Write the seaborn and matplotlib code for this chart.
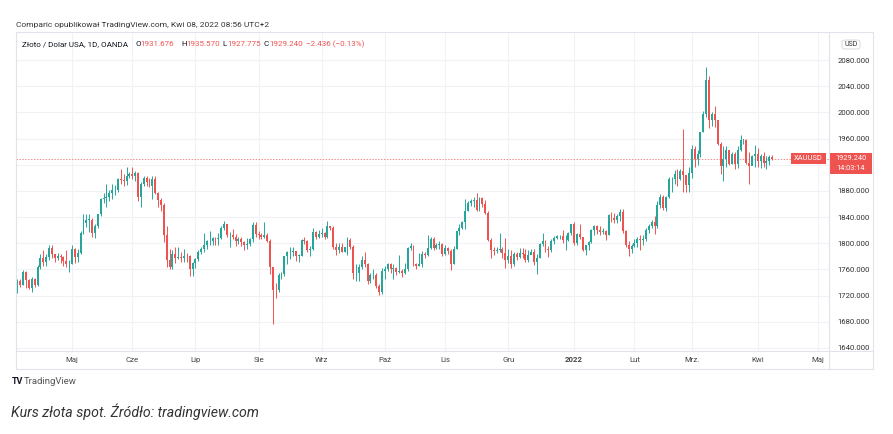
import numpy as np
import pandas as pd
import matplotlib
import matplotlib.pyplot as plt
from matplotlib.patches import Rectangle, FancyBboxPatch
from matplotlib.lines import Line2D
import seaborn as sns

matplotlib.use('Agg')
sns.set_theme(style='white')
plt.rcParams['font.family'] = ['Roboto', 'DejaVu Sans']

# ---------------------------------------------------------------------------
# XAU/USD daily candles, 2021-04-06 .. 2022-04-08
# ---------------------------------------------------------------------------
first_open = 1728.0

closes = [
    # Apr 2021
    1743, 1737, 1756, 1744, 1732, 1746, 1736, 1764, 1777, 1771, 1779, 1793, 1783, 1777, 1780, 1779, 1773, 1768, 1769,
    # May
    1792, 1779, 1785, 1815, 1831, 1836, 1836, 1815, 1826, 1844, 1867, 1869, 1870, 1877, 1881, 1881, 1898, 1897, 1895, 1903, 1906,
    # Jun
    1903, 1908, 1871, 1891, 1899, 1893, 1888, 1898, 1877, 1866, 1859, 1812, 1774, 1764, 1783, 1778, 1779, 1777, 1781, 1780, 1761, 1770,
    # Jul
    1776, 1787, 1791, 1797, 1803, 1803, 1808, 1806, 1808, 1824, 1829, 1812, 1812, 1810, 1804, 1806, 1802, 1797, 1799, 1806, 1828, 1814,
    # Aug
    1813, 1810, 1812, 1804, 1763, 1729, 1728, 1752, 1753, 1780, 1786, 1786, 1788, 1781, 1781, 1805, 1803, 1790, 1792, 1817, 1810, 1814,
    # Sep
    1815, 1809, 1827, 1823, 1794, 1789, 1795, 1787, 1794, 1805, 1794, 1754, 1754, 1764, 1775, 1768, 1743, 1751, 1751, 1734, 1726, 1757,
    # Oct
    1761, 1769, 1760, 1762, 1756, 1757, 1754, 1760, 1793, 1796, 1768, 1765, 1769, 1783, 1782, 1793, 1807, 1793, 1798, 1799, 1783,
    # Nov
    1793, 1788, 1769, 1792, 1818, 1823, 1832, 1849, 1862, 1865, 1866, 1851, 1869, 1860, 1846, 1805, 1790, 1788, 1790, 1792, 1785, 1774,
    # Dec
    1781, 1768, 1784, 1779, 1785, 1783, 1775, 1782, 1787, 1771, 1777, 1799, 1804, 1791, 1789, 1803, 1808, 1811, 1811, 1805, 1805, 1815, 1829,
    # Jan 2022
    1801, 1814, 1810, 1789, 1797, 1802, 1821, 1826, 1821, 1817, 1819, 1813, 1843, 1839, 1835, 1842, 1848, 1819, 1797, 1791, 1796,
    # Feb
    1801, 1807, 1805, 1807, 1820, 1826, 1833, 1827, 1859, 1870, 1854, 1870, 1898, 1898, 1906, 1898, 1910, 1904, 1889, 1908,
    # Mar
    1944, 1928, 1936, 1970, 1998, 2050, 1989, 1997, 1988, 1952, 1918, 1928, 1943, 1921, 1936, 1921, 1943, 1958, 1958, 1923, 1918, 1933, 1937,
    # Apr
    1925, 1933, 1922, 1925, 1931.676, 1929.24,
]

highs = [
    1745, 1745, 1759, 1758, 1746, 1748, 1747, 1767, 1784, 1790, 1784, 1797, 1798, 1783, 1785, 1783, 1780, 1790, 1775,
    1798, 1793, 1792, 1818, 1845, 1844, 1844, 1838, 1829, 1845, 1869, 1877, 1891, 1882, 1890, 1889, 1900, 1913, 1906, 1916, 1909,
    1916, 1910, 1909, 1894, 1903, 1903, 1900, 1903, 1903, 1878, 1869, 1862, 1826, 1791, 1789, 1794, 1795, 1786, 1792, 1785, 1782, 1771,
    1778, 1790, 1795, 1815, 1805, 1818, 1810, 1809, 1815, 1827, 1834, 1830, 1817, 1822, 1814, 1809, 1809, 1804, 1808, 1808, 1832, 1832,
    1818, 1816, 1832, 1816, 1807, 1745, 1739, 1754, 1756, 1781, 1788, 1794, 1795, 1788, 1784, 1806, 1809, 1805, 1796, 1823, 1818, 1821,
    1823, 1817, 1834, 1827, 1827, 1801, 1800, 1801, 1795, 1809, 1808, 1797, 1769, 1768, 1780, 1787, 1770, 1754, 1760, 1754, 1738, 1762,
    1765, 1770, 1770, 1768, 1764, 1782, 1761, 1770, 1795, 1800, 1797, 1770, 1785, 1788, 1787, 1813, 1809, 1810, 1801, 1803, 1801,
    1797, 1795, 1792, 1796, 1818, 1829, 1834, 1868, 1865, 1868, 1870, 1877, 1870, 1870, 1866, 1849, 1808, 1794, 1795, 1815, 1794, 1808,
    1792, 1790, 1786, 1787, 1793, 1793, 1791, 1789, 1791, 1792, 1784, 1800, 1815, 1805, 1796, 1807, 1811, 1812, 1813, 1820, 1812, 1817, 1830,
    1832, 1815, 1829, 1810, 1798, 1804, 1822, 1828, 1828, 1827, 1823, 1820, 1844, 1848, 1847, 1845, 1853, 1852, 1821, 1803, 1799,
    1807, 1810, 1812, 1813, 1823, 1829, 1836, 1842, 1865, 1875, 1873, 1872, 1902, 1902, 1912, 1914, 1914, 1974, 1904, 1916,
    1950, 1948, 1943, 1970, 2002, 2070, 2056, 2001, 2009, 1989, 1955, 1948, 1949, 1943, 1940, 1939, 1948, 1966, 1959, 1960, 1940, 1935, 1950,
    1945, 1937, 1940, 1933, 1935, 1935.57,
]

lows = [
    1724, 1733, 1736, 1731, 1730, 1725, 1733, 1734, 1760, 1765, 1765, 1775, 1777, 1772, 1775, 1770, 1766, 1763, 1756,
    1769, 1770, 1771, 1784, 1814, 1825, 1817, 1809, 1808, 1824, 1841, 1862, 1855, 1864, 1868, 1873, 1879, 1891, 1888, 1889, 1899,
    1898, 1895, 1864, 1855, 1887, 1887, 1886, 1867, 1876, 1855, 1849, 1802, 1763, 1761, 1761, 1770, 1776, 1771, 1772, 1772, 1750, 1750,
    1762, 1773, 1783, 1786, 1792, 1797, 1797, 1797, 1797, 1807, 1821, 1810, 1795, 1806, 1796, 1799, 1796, 1789, 1792, 1796, 1802, 1809,
    1806, 1806, 1808, 1802, 1753, 1677, 1717, 1726, 1745, 1750, 1768, 1776, 1780, 1773, 1771, 1780, 1799, 1787, 1780, 1790, 1807, 1808,
    1809, 1807, 1808, 1820, 1791, 1782, 1785, 1786, 1787, 1782, 1791, 1745, 1742, 1742, 1760, 1763, 1738, 1740, 1745, 1731, 1721, 1722,
    1746, 1757, 1755, 1746, 1751, 1754, 1749, 1753, 1758, 1790, 1765, 1760, 1765, 1764, 1778, 1780, 1791, 1790, 1791, 1791, 1780,
    1782, 1784, 1759, 1768, 1791, 1813, 1822, 1822, 1849, 1857, 1856, 1850, 1850, 1856, 1844, 1803, 1778, 1782, 1785, 1786, 1778, 1762,
    1770, 1762, 1765, 1775, 1778, 1778, 1771, 1771, 1783, 1767, 1753, 1777, 1796, 1786, 1779, 1786, 1799, 1806, 1806, 1800, 1790, 1804, 1813,
    1798, 1798, 1806, 1788, 1782, 1789, 1800, 1813, 1814, 1812, 1814, 1805, 1812, 1832, 1831, 1831, 1834, 1816, 1795, 1780, 1785,
    1794, 1795, 1789, 1797, 1803, 1816, 1823, 1814, 1823, 1854, 1851, 1850, 1869, 1878, 1890, 1887, 1897, 1878, 1878, 1879,
    1900, 1916, 1920, 1932, 1970, 1993, 1976, 1979, 1978, 1950, 1906, 1895, 1916, 1920, 1921, 1914, 1915, 1941, 1952, 1921, 1890, 1919, 1916,
    1917, 1915, 1916, 1914, 1919, 1927.775,
]

month_labels = ['Maj', 'Cze', 'Lip', 'Sie', 'Wrz', 'Paź', 'Lis', 'Gru', '2022', 'Lut', 'Mrz.', 'Kwi', 'Maj']
price_ticks = [1640, 1680, 1720, 1760, 1800, 1840, 1880, 1920, 1960, 2000, 2040, 2080]
last_price = 1929.24

UP, DOWN = '#26a69a', '#ef5350'
GRID = '#f0f2f6'
BORDER = '#e0e3eb'
W, H = 893, 434

df = pd.DataFrame({'close': closes, 'high': highs, 'low': lows})
df['open'] = [first_open] + closes[:-1]
df['date'] = pd.bdate_range('2021-04-06', periods=len(df))
df['i'] = np.arange(len(df))
df['up'] = df['close'] >= df['open']

# trading-day calendar extended into the future for the time axis
cal = pd.bdate_range('2021-04-06', '2022-05-31')
month_idx = [i for i in range(1, len(cal)) if cal[i].month != cal[i - 1].month][:len(month_labels)]


def fx(x):
    return x / W


def fy(y):
    return 1 - y / H


fig = plt.figure(figsize=(W / 100, H / 100), dpi=100)
ax = fig.add_axes([fx(16), fy(351), fx(829) - fx(16), fy(32) - fy(351)])

# grid
for v in price_ticks:
    ax.axhline(v, color=GRID, lw=0.8, zorder=0)
for m in month_idx:
    ax.axvline(m, color=GRID, lw=0.8, zorder=0)

# candles
colors = np.where(df['up'], UP, DOWN)
ax.vlines(df['i'], df['low'], df['high'], colors=colors, lw=0.7, zorder=2)
body_lo = np.minimum(df['open'], df['close'])
body_h = np.maximum(np.abs(df['close'] - df['open']), 0.6)
ax.bar(df['i'], body_h, bottom=body_lo, width=0.68, color=colors, linewidth=0, zorder=3)

# last price line
ax.axhline(last_price, color='#f28b8a', lw=0.7, ls=(0, (1.5, 1.5)), zorder=1)

ax.set_xlim(-0.52, 282.8)
ax.set_ylim(1635.4, 2122.8)
for s in ax.spines.values():
    s.set_visible(False)
ax.set_xticks([])
ax.yaxis.tick_right()
ax.set_yticks(price_ticks)
# the 1920 label sits under the last-price badge, as in TradingView
ax.set_yticklabels(['' if abs(v - last_price) < 15 else f'{v:.3f}' for v in price_ticks])
ax.tick_params(axis='y', length=0, pad=6, labelsize=5.6, labelcolor='#333333')
ax.set_facecolor('white')

# time axis labels
for m, lab in zip(month_idx, month_labels):
    xpix = 16 + (m + 0.52) / (282.8 + 0.52) * (829 - 16)
    fig.text(fx(xpix), fy(360), lab, ha='center', va='center', fontsize=5.6,
             color='#444444', fontweight='bold' if lab == '2022' else 'normal')

# frame
fig.add_artist(Rectangle((fx(16), fy(369)), fx(873) - fx(16), fy(32) - fy(369),
                         transform=fig.transFigure, fill=False, ec=BORDER, lw=0.8))
fig.add_artist(Line2D([fx(829), fx(829)], [fy(32), fy(369)], color=BORDER, lw=0.8))
fig.add_artist(Line2D([fx(16), fx(873)], [fy(351), fy(351)], color=BORDER, lw=0.8))

# header texts
fig.text(fx(16), fy(25), 'Comparic opublikował TradingView.com, Kwi 08, 2022 08:56 UTC+2',
         fontsize=6, color='#333333', va='center')
fig.text(fx(22), fy(44), 'Złoto / Dolar USA, 1D, OANDA', fontsize=5.8, color='#131722', va='center')
for x0, key, val in [(135, 'O', '1931.676'), (181, 'H', '1935.570'),
                     (222, 'L', '1927.775'), (264, 'C', '1929.240')]:
    fig.text(fx(x0), fy(44), key, fontsize=5.8, color='#131722', va='center')
    fig.text(fx(x0 + 5.5), fy(44), val, fontsize=5.8, color=DOWN, va='center')
fig.text(fx(306), fy(44), '−2.436 (−0.13%)', fontsize=5.8, color=DOWN, va='center')

# USD badge
fig.add_artist(FancyBboxPatch((fx(842), fy(49)), fx(18), fy(40) - fy(49),
                              boxstyle='round,pad=0,rounding_size=0.004',
                              transform=fig.transFigure, fill=False, ec='#d1d4dc', lw=0.6))
fig.text(fx(851), fy(44.5), 'USD', fontsize=5, color='#333333', ha='center', va='center')

# price labels
fig.add_artist(Rectangle((fx(791), fy(164)), fx(35), fy(153) - fy(164),
                         transform=fig.transFigure, color=DOWN, lw=0))
fig.text(fx(808.5), fy(158.6), 'XAUUSD', fontsize=5.4, color='white', ha='center', va='center')
fig.add_artist(Rectangle((fx(829), fy(174)), fx(43), fy(153) - fy(174),
                         transform=fig.transFigure, color=DOWN, lw=0))
fig.text(fx(850.5), fy(158.3), '1929.240', fontsize=5.3, color='white', ha='center', va='center')
fig.text(fx(850.5), fy(169), '14:03:14', fontsize=5.3, color='white', ha='center', va='center')

# TradingView mark + caption
fig.text(fx(12), fy(381), 'TV', fontsize=6.5, color='#131722', fontweight='bold', va='center')
fig.text(fx(24), fy(381), 'TradingView', fontsize=6.8, color='#555555', va='center')
fig.text(fx(11), fy(411.5), 'Kurs złota spot. Źródło: tradingview.com', fontsize=10.2,
         color='#333333', style='italic', va='center')

fig.savefig('out.png', dpi=100, facecolor='white')
